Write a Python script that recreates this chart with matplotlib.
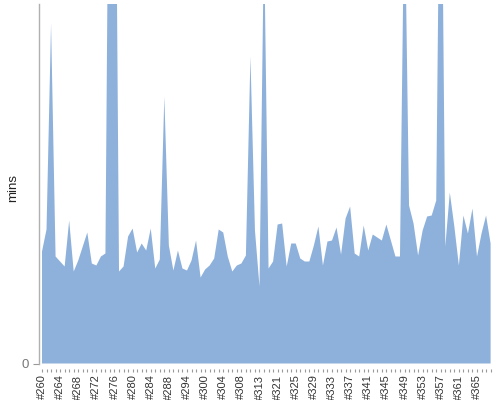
import matplotlib
matplotlib.use('Agg')
import matplotlib.pyplot as plt
import numpy as np

plt.rcParams['font.family'] = ['Liberation Sans', 'DejaVu Sans']

# episode ids along the x axis (only every 4th one gets a label)
episodes = [260, 261, 262, 263, 264, 265, 266, 267, 268, 269,
            270, 271, 272, 273, 274, 275, 276, 277, 278, 279,
            280, 281, 282, 283, 284, 285, 286, 287, 288, 289,
            291, 293, 294, 295, 297, 298, 300, 301, 302, 303,
            304, 305, 306, 307, 308, 309, 310, 312, 313, 315,
            317, 319, 321, 322, 323, 324, 325, 326, 327, 328,
            329, 330, 331, 332, 333, 334, 335, 336, 337, 338,
            339, 340, 341, 342, 343, 344, 345, 346, 347, 348,
            349, 350, 351, 352, 353, 354, 355, 356, 357, 358,
            359, 360, 361, 362, 363, 364, 365, 366, 367, 368]

# length in mins (peaks that run off the top are above the axis)
mins = [112, 134, 340, 107, 102, 97, 143, 92, 103, 117,
        131, 100, 98, 107, 110, 700, 700, 92, 97, 127,
        135, 111, 120, 113, 135, 95, 104, 267, 118, 93,
        113, 95, 93, 103, 123, 86, 94, 98, 105, 134,
        131, 107, 92, 98, 100, 108, 307, 133, 77, 430,
        95, 102, 139, 140, 97, 120, 120, 105, 102, 102,
        118, 137, 98, 122, 123, 136, 109, 145, 157, 110,
        107, 138, 113, 129, 126, 123, 139, 123, 107, 107,
        480, 158, 140, 108, 133, 147, 148, 163, 620, 117,
        171, 137, 98, 148, 130, 155, 107, 130, 148, 120]

labels = ['#{}'.format(e) for e in episodes]

fig = plt.figure(figsize=(5, 4), dpi=100)
ax = fig.add_axes([38.5/500, 36.5/400, (490.6-38.5)/500, 359.5/400])

x = np.arange(len(mins))
ax.fill_between(x, 0, mins, color='#8EB1DB', linewidth=0)

ax.set_xlim(-0.77, len(mins)-1)
ax.set_ylim(0, 359.5)

for s in ['top', 'right']:
    ax.spines[s].set_visible(False)
ax.spines['left'].set_color('#b0b0b0')
ax.spines['left'].set_linewidth(1)
ax.spines['bottom'].set_visible(False)
ax.spines['bottom'].set_position(('outward', 4))

ax.set_xticks(x)
ax.set_xticklabels([labels[i] if i % 4 == 0 else '' for i in x],
                   rotation=90, fontsize=8, color='#333333')
ax.tick_params(axis='x', length=2, width=0.8, color='#999999', pad=2)

ax.set_yticks([0])
ax.set_yticklabels(['0'], fontsize=9.5, color='#777777')
ax.tick_params(axis='y', length=4, width=0.8, color='#999999', pad=3)

fig.text(13/500, 1 - 188/400, 'mins', rotation=90, ha='center', va='center',
         fontsize=9.5, color='#222222')

fig.savefig('out.png', dpi=100)
